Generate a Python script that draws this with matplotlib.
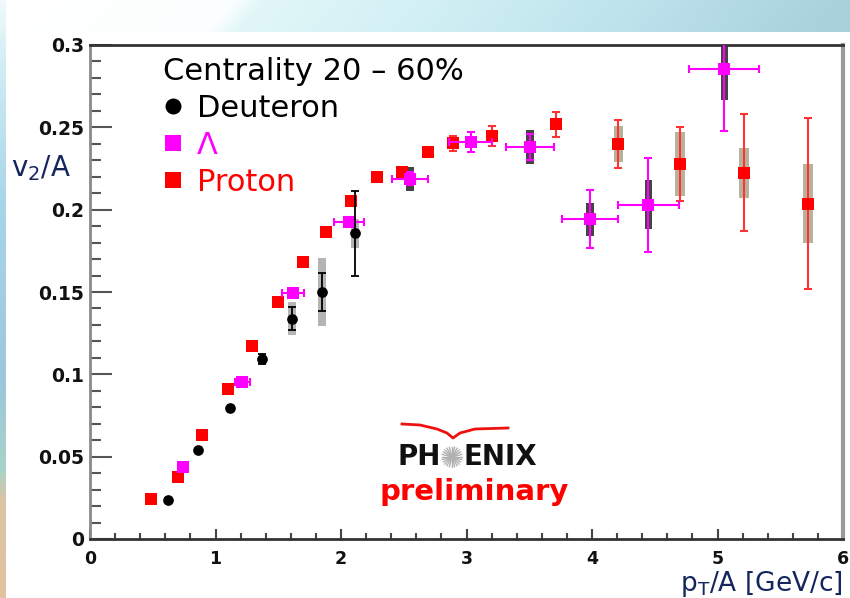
import numpy as np
import matplotlib
matplotlib.use('Agg')
import matplotlib.pyplot as plt
from matplotlib.lines import Line2D
from matplotlib.ticker import MultipleLocator, FixedLocator, FixedFormatter

plt.rcParams['font.family'] = ['DejaVu Sans']
plt.rcParams['mathtext.default'] = 'regular'

# ---- data ----
# proton
p_x = [0.49, 0.70, 0.89, 1.10, 1.29, 1.50, 1.70, 1.88, 2.08, 2.29, 2.49, 2.69, 2.89, 3.20, 3.71, 4.21, 4.70, 5.21, 5.72]
p_y = [0.0241, 0.0378, 0.0630, 0.0913, 0.1172, 0.1439, 0.1680, 0.1864, 0.2054, 0.2200, 0.2229, 0.2352, 0.2403, 0.2447, 0.2518, 0.2399, 0.2277, 0.2223, 0.2036]
p_err = [0.0005, 0.0005, 0.0005, 0.0005, 0.0005, 0.0008, 0.001, 0.001, 0.0015, 0.0015, 0.002, 0.003, 0.0045, 0.006, 0.0076, 0.0143, 0.0223, 0.0355, 0.052]
p_sys = [0, 0, 0, 0, 0, 0, 0, 0, 0, 0, 0, 0, 0, 0, 0, 0.011, 0.0197, 0.0154, 0.024]

# lambda
l_x = [0.739, 1.214, 1.620, 2.066, 2.550, 3.033, 3.506, 3.984, 4.449, 5.054]
l_y = [0.0439, 0.0955, 0.1496, 0.1927, 0.2188, 0.2413, 0.2382, 0.1941, 0.2030, 0.2856]
l_xerr = [0.0, 0.06, 0.089, 0.12, 0.14, 0.17, 0.19, 0.225, 0.245, 0.28]
l_err = [0.001, 0.0015, 0.002, 0.003, 0.004, 0.006, 0.008, 0.0176, 0.0285, 0.0377]
l_sys = [0, 0, 0, 0, 0.0074, 0.003, 0.0104, 0.0101, 0.0149, 0.019]

# deuteron
d_x = [0.619, 0.863, 1.116, 1.368, 1.612, 1.851, 2.114]
d_y = [0.0237, 0.0539, 0.0794, 0.1091, 0.1338, 0.1502, 0.1856]
d_err = [0.001, 0.001, 0.001, 0.003, 0.0068, 0.0115, 0.0256]
d_sys = [0, 0, 0, 0, 0.010, 0.0206, 0.009]

x_ticks = [0, 1, 2, 3, 4, 5, 6]
x_labels = ['0', '1', '2', '3', '4', '5', '6']
y_ticks = [0, 0.05, 0.1, 0.15, 0.2, 0.25, 0.3]
y_labels = ['0', '0.05', '0.1', '0.15', '0.2', '0.25', '0.3']

W, H = 850, 598
fig = plt.figure(figsize=(W / 100, H / 100), dpi=100)

# slide background: coloured band on top, thin strip on the left
img = np.ones((H, W, 3))
hex2 = lambda h: [int(h[i:i + 2], 16) / 255 for i in (1, 3, 5)]
bx = [0, 235, 262, 450, 650, 850]
bc = np.array([hex2(c) for c in ['#ffffff', '#fbfefe', '#e2f7f8', '#d0eff4', '#bce2ec', '#a8d1dc']])
for r in range(32):
    xe = np.arange(W) + r * 0.85
    for k in range(3):
        img[r, :, k] = np.interp(xe, bx, bc[:, k])
sy = [0, 60, 200, 380, 470, 500, 598]
sc = np.array([hex2(c) for c in ['#f2fafb', '#d2eef4', '#a9d5ea', '#9cc6dc', '#a9d3c8', '#dcc4a4', '#e2c2a0']])
for k in range(3):
    img[:, :6, k] = np.interp(np.arange(H), sy, sc[:, k])[:, None]
bg = fig.add_axes([0, 0, 1, 1], zorder=-10)
bg.imshow(img, aspect='auto', extent=[0, 1, 0, 1], interpolation='bilinear')
bg.axis('off')

L, R, T, B = 90, 843, 45, 539
ax = fig.add_axes([L / W, (H - B) / H, (R - L) / W, (B - T) / H])
ax.set_xlim(0, 6)
ax.set_ylim(0, 0.3)

# systematic bands
ax.bar(p_x, 2 * np.array(p_sys), bottom=np.array(p_y) - np.array(p_sys), width=0.075, color='#b7b29c', zorder=1)
ax.bar(l_x, 2 * np.array(l_sys), bottom=np.array(l_y) - np.array(l_sys), width=0.06, color='#444444', zorder=1.1)
ax.bar(d_x, 2 * np.array(d_sys), bottom=np.array(d_y) - np.array(d_sys), width=0.065, color='#b4b4b4', zorder=1.2)

# statistical error bars (with caps), then the markers
ax.errorbar(p_x, p_y, yerr=p_err, fmt='none', ecolor='#ff3333', elinewidth=1.5, capsize=3, capthick=1.5, zorder=2)
ax.plot(p_x, p_y, ls='none', marker='s', color='#ff0000', markersize=8.5, markeredgewidth=0, zorder=3)
ax.errorbar(l_x, l_y, xerr=l_xerr, yerr=l_err, fmt='none', ecolor='#ff00ff', elinewidth=1.5, capsize=3,
            capthick=1.5, zorder=3.5)
ax.plot(l_x, l_y, ls='none', marker='s', color='#ff00ff', markersize=8.8, markeredgewidth=0, zorder=4)
ax.errorbar(d_x, d_y, yerr=d_err, fmt='none', ecolor='black', elinewidth=1.3, capsize=3, capthick=1.3, zorder=4.5)
ax.plot(d_x, d_y, ls='none', marker='o', color='black', markersize=7.7, markeredgewidth=0, zorder=5)

# axes style (ROOT like)
for s in ['top', 'bottom']:
    ax.spines[s].set_color('#333333')
    ax.spines[s].set_linewidth(2)
ax.spines['left'].set_color('#8a8a8a')
ax.spines['left'].set_linewidth(2)
ax.spines['right'].set_color('#9a9a9a')
ax.spines['right'].set_linewidth(3)

ax.xaxis.set_major_locator(FixedLocator(x_ticks))
ax.xaxis.set_major_formatter(FixedFormatter(x_labels))
ax.xaxis.set_minor_locator(MultipleLocator(0.2))
ax.yaxis.set_major_locator(FixedLocator(y_ticks))
ax.yaxis.set_major_formatter(FixedFormatter(y_labels))
ax.yaxis.set_minor_locator(MultipleLocator(0.01))
ax.tick_params(axis='y', which='major', direction='in', length=16, width=1.5, color='#555555', pad=4.5,
               labelsize=13.5, labelcolor='#111111')
ax.tick_params(axis='y', which='minor', direction='in', length=8, width=1.5, color='#555555')
ax.tick_params(axis='x', which='major', direction='in', length=7, width=1.5, color='#444444', pad=8,
               labelsize=12.5, labelcolor='#111111')
ax.tick_params(axis='x', which='minor', direction='in', length=4.5, width=1.5, color='#444444')
for lab in ax.get_xticklabels() + ax.get_yticklabels():
    lab.set_fontweight('bold')

ax.set_xlabel(r'$p_T$/A [GeV/c]', loc='right', fontsize=19, color='#15265c', labelpad=0.5)
ax.set_ylabel(r'$v_2$/A', rotation=0, fontsize=20, color='#15265c', ha='center', va='center')
ax.yaxis.set_label_coords(-0.065, 0.751)

# legend
handles = [Line2D([], [], ls='none', marker='o', color='black', markersize=11.5, markeredgewidth=0),
           Line2D([], [], ls='none', marker='s', color='#ff00ff', markersize=11.5, markeredgewidth=0),
           Line2D([], [], ls='none', marker='s', color='#ff0000', markersize=11, markeredgewidth=0)]
leg = ax.legend(handles, ['Deuteron', '\u039b', 'Proton'], loc='upper left',
                bbox_to_anchor=(0.097, 0.976), frameon=False, fontsize=22,
                title='Centrality 20 \u2013 60%', title_fontsize=22, alignment='left',
                handlelength=0.65, handletextpad=0.45, labelspacing=0.26, borderpad=0,
                borderaxespad=0, labelcolor=['black', '#ff00ff', '#ff0000'])

# PHENIX preliminary logo
tx = lambda px: (px - L) / (R - L)
ty = lambda py: (B - py) / (B - T)
ax.text(tx(441), ty(457), 'PH', transform=ax.transAxes, ha='right', va='center',
        fontsize=20, fontweight='bold', color='#111111')
ax.text(tx(463), ty(457), 'ENIX', transform=ax.transAxes, ha='left', va='center',
        fontsize=20, fontweight='bold', color='#111111')
for a in np.linspace(0, np.pi, 12, endpoint=False):
    ax.plot([tx(452 - 10 * np.cos(a)), tx(452 + 10 * np.cos(a))],
            [ty(457 - 10 * np.sin(a)), ty(457 + 10 * np.sin(a))],
            transform=ax.transAxes, color='#b0b0b0', lw=1.0)
arc_px = [402, 420, 437, 447, 453, 460, 475, 508]
arc_py = [424, 425, 429, 433, 438, 433, 429, 428]
ax.plot([tx(v) for v in arc_px], [ty(v) for v in arc_py], transform=ax.transAxes, color='#ee1111', lw=2)
ax.text(tx(474), ty(500), 'preliminary', transform=ax.transAxes, ha='center', va='baseline',
        fontsize=21, fontweight='bold', color='#ff0000')

fig.savefig('out.png', dpi=100)
